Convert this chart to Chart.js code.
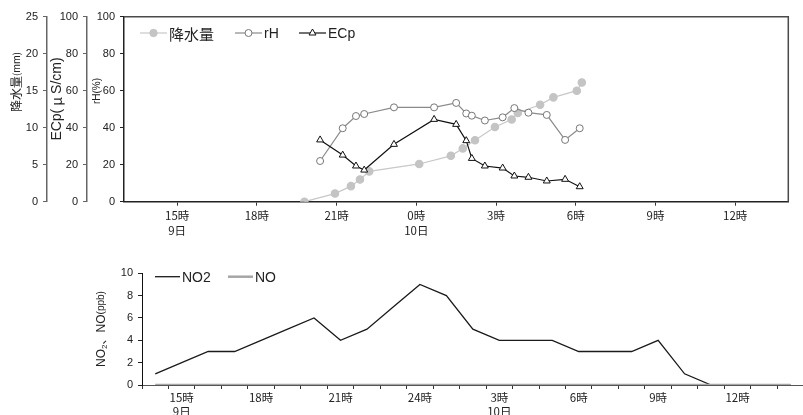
<!DOCTYPE html>
<html lang="ja">
<head>
<meta charset="utf-8">
<title>降水量・rH・ECp と NO2・NO</title>
<script src="https://cdn.jsdelivr.net/npm/chart.js@4.4.1/dist/chart.umd.min.js"></script>
<style>
    body { margin: 0; width: 803px; height: 415px; overflow: hidden; background: #fff; position: relative; }
    canvas { position: absolute; left: 0; }
    #climateChart { top: 0; }
    #noxChart { top: 260px; }
</style>
</head>
<body>
<canvas id="climateChart" width="803" height="245"></canvas>
<canvas id="noxChart" width="820" height="155"></canvas>

<script>
// ==============================
// DATA  (x = hours counted from 9日 0時)
// ==============================
const rainHours  = [19.79, 20.94, 21.54, 21.88, 22.23, 24.11, 25.30, 25.75, 26.21, 26.96, 27.59, 27.82, 28.66, 29.16, 30.04, 30.23];
const rainValues = [0, 1.1, 2.1, 3.0, 4.1, 5.1, 6.2, 7.2, 8.3, 10.1, 11.1, 12.0, 13.1, 14.1, 15.0, 16.1];

const sampleHours = [20.38, 21.23, 21.73, 22.04, 23.16, 24.67, 25.50, 25.88, 26.09, 26.58, 27.25, 27.69, 28.22, 28.91, 29.60, 30.15];
const rhValues    = [22.0, 39.7, 46.3, 47.4, 51.0, 51.0, 53.4, 47.7, 46.5, 43.9, 45.6, 50.6, 48.1, 46.9, 33.4, 39.7];
const ecpValues   = [33.4, 25.2, 19.3, 17.1, 31.0, 44.5, 41.8, 33.0, 23.4, 19.3, 18.2, 13.9, 13.2, 11.2, 12.1, 8.1];

const topTickHours  = [15, 18, 21, 24, 27, 30, 33, 36];
const topTickLabels = [["15時", "9日"], "18時", "21時", ["0時", "10日"], "3時", "6時", "9時", "12時"];

// hourly categories 9日14時 .. 10日14時
const noxLabels = ["", ["15時", "9日"], "", "", "18時", "", "", "21時", "", "", "24時", "", "",
                   ["3時", "10日"], "", "", "6時", "", "", "9時", "", "", "12時", "", ""];
const no2Values = [1, 2, 3, 3, 4, 5, 6, 4, 5, 7, 9, 8, 5, 4, 4, 4, 3, 3, 3, 4, 1, 0, 0, 0, 0];
const noValues  = [0, 0, 0, 0, 0, 0, 0, 0, 0, 0, 0, 0, 0, 0, 0, 0, 0, 0, 0, 0, 0, 0, 0, 0, 0];

// ==============================
// FONTS / HELPERS
// ==============================
const LATIN = '"Liberation Sans", Arial, sans-serif';
const CJK = '"Noto Sans CJK JP", "Liberation Sans", sans-serif';
const TEXT = "#222";

function toPoints(xs, ys) {
    return xs.map((x, i) => ({ x: x, y: ys[i] }));
}

// rotated axis title made of pieces with their own font
function drawVerticalText(ctx, cx, cy, parts) {
    ctx.save();
    ctx.translate(cx, cy);
    ctx.rotate(-Math.PI / 2);
    ctx.textBaseline = "middle";
    ctx.textAlign = "left";
    ctx.fillStyle = TEXT;
    let total = 0;
    parts.forEach(p => {
        ctx.font = p.font;
        p.w = ctx.measureText(p.text).width + (p.pad || 0) * 2;
        total += p.w;
    });
    let x = -total / 2;
    parts.forEach(p => {
        ctx.font = p.font;
        ctx.fillText(p.text, x + (p.pad || 0), p.dy || 0);
        x += p.w;
    });
    ctx.restore();
}

function drawMarker(ctx, style, x, y, r, fill, stroke) {
    ctx.beginPath();
    if (style === "triangle") {
        ctx.moveTo(x, y - r);
        ctx.lineTo(x + r * 0.866, y + r / 2);
        ctx.lineTo(x - r * 0.866, y + r / 2);
        ctx.closePath();
    } else {
        ctx.arc(x, y, r, 0, Math.PI * 2);
    }
    ctx.fillStyle = fill;
    ctx.fill();
    ctx.lineWidth = 1;
    ctx.strokeStyle = stroke;
    ctx.stroke();
}

function drawLegendItem(ctx, item) {
    ctx.save();
    ctx.beginPath();
    ctx.moveTo(item.x, item.y);
    ctx.lineTo(item.x + item.len, item.y);
    ctx.strokeStyle = item.color;
    ctx.lineWidth = item.width;
    ctx.stroke();
    if (item.marker) {
        drawMarker(ctx, item.marker, item.x + item.len / 2, item.y, item.r, item.fill, item.stroke);
    }
    ctx.font = item.font;
    ctx.fillStyle = TEXT;
    ctx.textBaseline = "middle";
    ctx.textAlign = "left";
    ctx.fillText(item.label, item.x + item.len + 2, item.y + 1);
    ctx.restore();
}

// ==============================
// TOP CHART: 降水量 / rH / ECp
// ==============================
const climateDecor = {
    id: "climateDecor",
    afterDraw(chart) {
        const ctx = chart.ctx;
        const a = chart.chartArea;
        // frame (top + right)
        ctx.save();
        ctx.strokeStyle = "#4a4a4a";
        ctx.lineWidth = 1.5;
        ctx.beginPath();
        ctx.moveTo(a.left, a.top);
        ctx.lineTo(a.right, a.top);
        ctx.lineTo(a.right, a.bottom);
        ctx.stroke();
        ctx.restore();

        drawVerticalText(ctx, 16, 82, [
            { text: "降水量", font: "12px " + CJK },
            { text: "(mm)", font: "9.5px " + CJK }
        ]);
        drawVerticalText(ctx, 57, 99, [
            { text: "ECp(", font: "14px " + LATIN },
            { text: "μ", font: "14px " + CJK, pad: 3 },
            { text: "S/cm)", font: "14px " + LATIN }
        ]);
        drawVerticalText(ctx, 97, 91, [
            { text: "rH(%)", font: "10px " + LATIN }
        ]);

        drawLegendItem(ctx, { x: 140, y: 33, len: 27, color: "#c8c8c8", width: 1.2, marker: "circle",
            r: 3.7, fill: "#c4c4c4", stroke: "#c4c4c4", label: "降水量", font: "15px " + CJK });
        drawLegendItem(ctx, { x: 235, y: 33, len: 27, color: "#8a8a8a", width: 1.2, marker: "circle",
            r: 3.5, fill: "#fff", stroke: "#777", label: "rH", font: "14px " + LATIN });
        drawLegendItem(ctx, { x: 299, y: 33, len: 27, color: "#111", width: 1.2, marker: "triangle",
            r: 4, fill: "#fff", stroke: "#111", label: "ECp", font: "14px " + LATIN });
    }
};

function leftAxis(weight, width, max, step, borderColor) {
    return {
        position: "left",
        weight: weight,
        min: 0,
        max: max,
        afterFit: s => { s.width = width; },
        ticks: { stepSize: step, color: TEXT, padding: 5, font: { family: LATIN, size: 11 } },
        grid: { drawOnChartArea: false, tickLength: 4, color: borderColor, lineWidth: 1 },
        border: { color: borderColor, width: 1.5 }
    };
}

function loadClimateChart() {
    const canvas = document.getElementById("climateChart");
    new Chart(canvas, {
        type: "line",
        data: {
            datasets: [
                {
                    label: "降水量", yAxisID: "yRain", order: 3,
                    data: toPoints(rainHours, rainValues),
                    borderColor: "#c8c8c8", borderWidth: 1.2,
                    pointStyle: "circle", pointRadius: 3.7,
                    pointBackgroundColor: "#c4c4c4", pointBorderColor: "#c4c4c4"
                },
                {
                    label: "rH", yAxisID: "yRh", order: 2,
                    data: toPoints(sampleHours, rhValues),
                    borderColor: "#8a8a8a", borderWidth: 1.2,
                    pointStyle: "circle", pointRadius: 3.5, pointBorderWidth: 1,
                    pointBackgroundColor: "#fff", pointBorderColor: "#777"
                },
                {
                    label: "ECp", yAxisID: "yEcp", order: 1,
                    data: toPoints(sampleHours, ecpValues),
                    borderColor: "#111", borderWidth: 1.2,
                    pointStyle: "triangle", pointRadius: 4, pointBorderWidth: 1,
                    pointBackgroundColor: "#fff", pointBorderColor: "#111"
                }
            ]
        },
        options: {
            responsive: false,
            animation: false,
            layout: { padding: { left: 0, right: 14.7, top: 16.7, bottom: 0 } },
            plugins: { legend: { display: false }, tooltip: { enabled: false } },
            scales: {
                x: {
                    type: "linear",
                    min: 13,
                    max: 38,
                    afterBuildTicks: s => { s.ticks = topTickHours.map(v => ({ value: v })); },
                    afterFit: s => { s.height = 43.3; },
                    ticks: {
                        autoSkip: false, maxRotation: 0, padding: 3, color: TEXT,
                        font: { family: CJK, size: 11.5, lineHeight: 1.25 },
                        callback: (v, i) => topTickLabels[i]
                    },
                    grid: { drawOnChartArea: false, tickLength: 4, color: "#333" },
                    border: { color: "#222", width: 1.5 }
                },
                yRain: leftAxis(3, 47, 25, 5, "#666"),
                yEcp: leftAxis(2, 40, 100, 20, "#666"),
                yRh: leftAxis(1, 37, 100, 20, "#222")
            }
        },
        plugins: [climateDecor]
    });
}

// ==============================
// BOTTOM CHART: NO2 / NO
// ==============================
const noxDecor = {
    id: "noxDecor",
    afterDraw(chart) {
        const ctx = chart.ctx;
        drawVerticalText(ctx, 101.5, 69, [
            { text: "NO", font: "12px " + LATIN },
            { text: "2", font: "8px " + LATIN, dy: 3 },
            { text: "、", font: "12px " + CJK },
            { text: "NO", font: "12px " + LATIN },
            { text: "(ppb)", font: "10px " + LATIN }
        ]);
        drawLegendItem(ctx, { x: 155, y: 16.7, len: 25, color: "#1a1a1a", width: 1.3,
            label: "NO2", font: "14px " + LATIN });
        drawLegendItem(ctx, { x: 228, y: 16.7, len: 25, color: "#a6a6a6", width: 2.5,
            label: "NO", font: "14px " + LATIN });
    }
};

function loadNoxChart() {
    const canvas = document.getElementById("noxChart");
    new Chart(canvas, {
        type: "line",
        data: {
            labels: noxLabels,
            datasets: [
                {
                    label: "NO2", order: 2, data: no2Values,
                    borderColor: "#1a1a1a", borderWidth: 1.3, pointRadius: 0
                },
                {
                    label: "NO", order: 1, data: noValues,
                    borderColor: "#a6a6a6", borderWidth: 2.5, pointRadius: 0
                }
            ]
        },
        options: {
            responsive: false,
            animation: false,
            layout: { padding: { left: 0, right: 16.3, top: 13.3, bottom: 0 } },
            plugins: { legend: { display: false }, tooltip: { enabled: false } },
            scales: {
                x: {
                    type: "category",
                    offset: true,
                    afterFit: s => { s.height = 30; },
                    ticks: {
                        autoSkip: false, maxRotation: 0, padding: 1, color: TEXT,
                        font: { family: CJK, size: 11.5, lineHeight: 1.25 }
                    },
                    grid: { offset: true, drawOnChartArea: false, tickLength: 4, color: "#333" },
                    border: { color: "#555", width: 1 }
                },
                y: {
                    min: 0,
                    max: 10,
                    afterFit: s => { s.width = 142; },
                    ticks: { stepSize: 2, color: TEXT, padding: 5, font: { family: LATIN, size: 11 } },
                    grid: { drawOnChartArea: false, tickLength: 4, color: "#222" },
                    border: { color: "#111", width: 1 }
                }
            }
        },
        plugins: [noxDecor]
    });
}

// ==============================
// INIT ON PAGE LOAD
// ==============================
document.addEventListener("DOMContentLoaded", () => {
    loadClimateChart();
    loadNoxChart();
});
</script>
</body>
</html>
